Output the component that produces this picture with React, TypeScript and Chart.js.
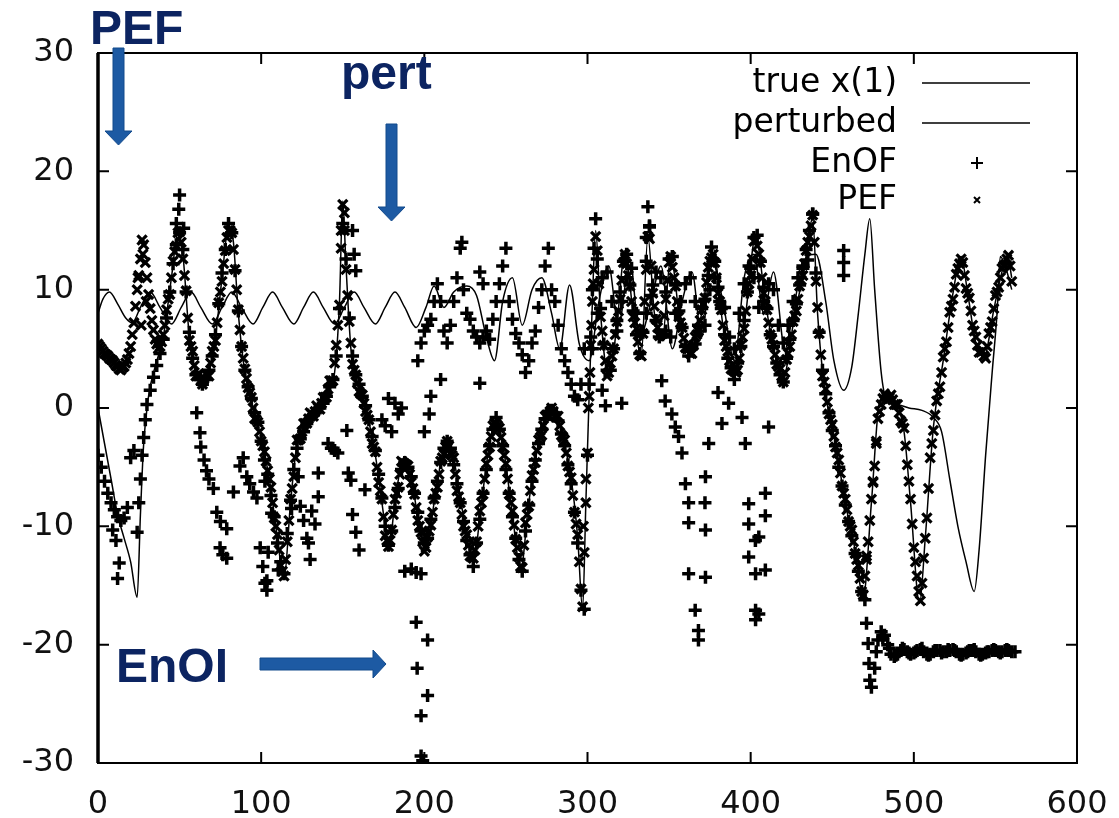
import React, { useEffect, useRef } from "react";
import { Chart, registerables } from "chart.js";

Chart.register(...registerables);

// ---------------- data ----------------
const X_TICKS = [0, 100, 200, 300, 400, 500, 600];
const Y_TICKS = [-30, -20, -10, 0, 10, 20, 30];
const LEGEND_LABELS = ["true x(1)", "perturbed", "EnOF", "PEF"];

const truthLine: [number, number][] = [
  [0, 0], [4, -3], [8, -6], [12, -9], [16, -11], [20, -13], [24, -16], [26, -9], [28, -3], [31, 1], [35, 3.5], [40, 6], [45, 11], [49, 14.8], [52, 13], [56, 6], [60, 3], [64, 2.3], [68, 3], [72, 6], [76, 11], [80, 15.3], [83, 14], [86, 8], [90, 3], [95, 0], [100, -2.5], [105, -6], [110, -11], [114, -14.5], [118, -8], [122, -3], [128, -1], [135, 0], [141, 1.5], [145, 3], [148, 9], [150, 17.5], [152, 12], [155, 5], [158, 2.5], [164, 0], [170, -4], [175, -9], [178, -12], [182, -8], [187, -4.4], [192, -6], [197, -10], [201, -12], [206, -8], [211, -4], [215, -3], [219, -5], [225, -10], [230, -13], [235, -8], [240, -3], [244, -1], [248, -3], [254, -9], [259, -13.7], [264, -8], [270, -3], [276, -0.3], [281, -0.5], [286, -3], [291, -7], [294, -11], [297, -17], [299, -8], [301, 1], [303, 9], [305, 15], [308, 8], [313, 2.5], [318, 7], [323, 13.3], [328, 8], [333, 4.5], [337, 14.5], [341, 8], [346, 6], [351, 12.8], [357, 7], [363, 4.5], [370, 8], [377, 13.5], [383, 7], [391, 2.8], [397, 8], [403, 14.5], [409, 9], [414, 5], [420, 2.5], [426, 7], [433, 12], [438, 16], [441, 8], [445, 2], [452, -3], [458, -8], [464, -12], [469, -16], [474, -8], [479, 0.5], [484, 1], [489, 0.5], [494, -2], [498, -8], [503.5, -16.5], [507, -11], [512, -1.6], [518, 4], [524, 9.7], [529, 12.8], [533, 9.7], [538, 5.5], [543, 4.3], [549, 8.3], [554, 11.5], [557.5, 12.8], [560, 11],
];

const perturbedLine: [number, number][] = [
  [0, 8], [3, 9.2], [7, 9.8], [12, 8.8], [17, 7.6], [21, 7.2], [26, 8.5], [32, 9.8], [38, 8.5], [45, 7.1], [51, 8.5], [57, 9.8], [63, 8.5], [70, 7.1], [76, 8.5], [82, 9.8], [88, 8.5], [95, 7.1], [101, 8.5], [107, 9.8], [113, 8.5], [120, 7.1], [126, 8.5], [132, 9.8], [138, 8.5], [145, 7.1], [151, 8.5], [157, 9.8], [163, 8.5], [170, 7.1], [176, 8.5], [182, 9.8], [188, 8.5], [195, 6.8], [201, 8.5], [206, 10.3], [212, 8.5], [218, 9.8], [226, 10.3], [232, 9.5], [238, 6], [243, 4], [248, 9], [254, 11], [260, 7], [266, 10], [272, 11], [278, 8], [283, 5], [289, 10.4], [295, 5.4], [301, 4], [307, 9], [313, 12], [319, 7], [326, 12.5], [332, 6], [339, 9], [345, 12], [352, 5], [358, 9], [364, 11.5], [370, 6], [376, 12.5], [383, 9], [390, 4], [396, 11], [402, 13], [408, 8], [414, 11.5], [421, 5], [427, 9], [433, 12.5], [440, 13], [446, 9], [451, 4], [457, 1.5], [462, 3.5], [466, 8], [470, 13], [473, 16], [476, 10], [480, 3], [483, 0.8], [490, 0.3], [497, 0], [505, -0.2], [512, -0.8], [517, -2], [522, -6], [527, -10], [532, -13], [537, -15.5], [540, -12], [544, -4], [548, 3], [551, 8], [553, 12.8], [556, 12], [560, 10],
];

// PEF estimates read at x = 1, 3, 5, ... 559
const pefOdd: number[] = [
  5.2, 4.8, 4.5, 4.2, 4.0, 3.6, 3.3, 3.4, 3.8, 4.6, 6.2, 8.6, 11.2, 14.2, 12.3, 9.6, 7.4, 5.8, 5.0, 5.6,
  7.0, 9.2, 11.0, 13.2, 14.8, 14.0, 11.2, 7.6, 5.2, 3.6, 2.8, 2.3, 2.5, 2.8, 3.8, 5.2, 7.2, 9.8, 12.2, 14.4,
  15.0, 13.4, 10.0, 6.6, 4.2, 2.5, 1.3, 0, -1.0, -2.0, -3.2, -4.5, -6.0, -8.0, -10.0, -12.0, -13.8, -12.8, -9.5, -6.8,
  -4.2, -2.7, -2.0, -1.3, -0.9, -0.5, -0.3, 0, 0.4, 0.9, 1.6, 2.3, 3.8, 7.0, 13.5, 15.0, 9.5, 5.5, 3.2, 2.1,
  1.2, 0.4, -0.6, -2.0, -3.3, -5.0, -7.0, -9.2, -11.2, -11.2, -9.0, -7.2, -5.6, -4.6, -4.8, -5.6, -6.8, -8.4, -10.0, -11.3,
  -11.8, -10.4, -8.8, -7.2, -5.6, -4.2, -3.3, -3.2, -4.0, -5.6, -7.5, -9.0, -10.4, -11.6, -12.6, -12.0, -10.0, -8.0, -6.0, -4.0,
  -2.4, -1.3, -1.5, -2.5, -4.0, -6.0, -8.0, -9.9, -11.8, -13.4, -11.6, -9.0, -7.0, -5.2, -3.6, -2.5, -1.5, -0.6, -0.3, -0.3,
  -0.7, -1.5, -2.5, -3.8, -5.4, -7.4, -9.8, -13.0, -16.8, -8.0, 1.0, 9.0, 14.5, 10.5, 6.5, 4.0, 3.0, 4.4, 6.2, 8.2,
  10.8, 13.0, 11.2, 9.0, 7.2, 5.6, 4.4, 9.0, 14.5, 12.0, 8.6, 6.8, 6.2, 7.8, 10.8, 12.8, 11.0, 9.0, 7.2, 5.9,
  5.0, 4.6, 5.3, 6.2, 7.4, 8.8, 10.6, 12.4, 13.0, 11.0, 9.0, 7.0, 5.2, 4.0, 3.2, 3.0, 4.2, 6.0, 8.2, 10.5,
  12.6, 14.2, 13.0, 11.0, 9.0, 7.2, 5.8, 4.5, 3.5, 2.7, 3.0, 4.6, 6.2, 7.8, 9.2, 10.8, 12.2, 14.0, 15.4, 14.0,
  8.5, 4.5, 2.2, 0.5, -1.0, -2.4, -3.8, -5.5, -7.2, -8.6, -10.0, -11.3, -12.8, -14.4, -15.8, -12.5, -9.5, -6.3, -3.0, -0.3,
  0.8, 1.0, 0.9, 0.7, 0.3, -0.4, -1.3, -3.2, -6.2, -9.8, -13.0, -15.5, -14.8, -11.0, -6.8, -3.0, -0.6, 1.2, 3.0, 5.0,
  6.8, 8.6, 10.2, 11.8, 12.6, 11.2, 9.7, 8.2, 6.5, 5.3, 4.7, 4.4, 5.2, 6.8, 8.4, 9.8, 11.0, 12.0, 12.6, 12.0,
];

// PEF estimates read at x = 0, 2, 4, ... 560
const pefEven: number[] = [
  5.4, 5.0, 4.6, 4.4, 4.1, 3.8, 3.5, 3.2, 3.5, 4.1, 5.2, 7.2, 10.0, 12.6, 13.8, 11.0, 8.4, 6.6, 5.4, 5.2,
  6.2, 8.3, 9.6, 12.4, 13.7, 14.9, 12.6, 9.9, 5.7, 4.8, 2.7, 2.9, 2.0, 2.9, 2.7, 4.8, 5.7, 8.9, 10.7, 13.3,
  15.0, 14.8, 11.7, 8.3, 5.2, 3.3, 1.7, 0.9, -0.9, -1.2, -2.8, -3.7, -5.3, -6.7, -9.3, -10.7, -13.3, -14.2, -11.3, -7.7,
  -5.8, -2.7, -2.6, -1.3, -1.3, -0.4, -0.7, 0.2, -0.1, 0.9, 0.9, 2.3, 2.3, 5.3, 8.7, 17.2, 11.7, 7.3, 3.7, 2.8,
  1.4, 1.1, -0.3, -1.0, -3.0, -3.7, -6.3, -7.7, -10.8, -11.7, -10.3, -7.7, -6.7, -4.5, -4.7, -4.9, -6.3, -7.3, -9.5, -10.5,
  -12.1, -10.9, -9.9, -7.7, -6.7, -4.5, -3.9, -2.8, -3.8, -4.2, -7.0, -8.0, -10.0, -10.7, -12.5, -12.7, -11.3, -8.7, -7.3, -4.7,
  -3.3, -1.5, -1.3, -1.7, -3.3, -4.7, -7.3, -8.7, -11.1, -12.6, -13.5, -9.7, -8.3, -5.7, -4.6, -2.7, -2.3, -0.7, -0.6, 0,
  -0.7, -0.7, -2.3, -2.7, -4.9, -5.9, -8.8, -10.7, -15.3, -12.2, -3.8, 5.3, 11.7, 13.3, 7.7, 5.3, 2.7, 3.8, 5.0, 7.3,
  9.2, 12.3, 12.2, 10.3, 7.7, 6.7, 4.5, 6.3, 11.7, 14.3, 9.7, 7.5, 6.1, 6.3, 9.2, 12.3, 11.9, 10.3, 7.7, 6.8,
  5.1, 5.0, 4.6, 6.0, 6.5, 8.3, 9.3, 11.9, 12.7, 12.3, 9.7, 8.3, 5.7, 4.8, 3.3, 3.1, 3.2, 5.3, 6.7, 9.8,
  11.2, 14.1, 13.7, 12.3, 9.7, 8.3, 6.2, 5.3, 3.7, 3.3, 2.2, 4.1, 5.2, 7.3, 8.2, 10.3, 11.2, 13.3, 14.5, 16.3,
  10.7, 6.3, 2.7, 1.6, -0.5, -1.4, -3.3, -4.4, -6.6, -7.7, -9.6, -10.3, -12.3, -13.3, -15.5, -14.2, -11.3, -7.7, -4.9, -0.9,
  0.3, 1.2, 0.7, 1.1, 0.3, 0.3, -1.1, -1.7, -4.8, -7.7, -11.8, -14.2, -16.3, -12.7, -9.3, -4.2, -1.9, 0.6, 1.8, 4.3,
  5.6, 8.1, 9.2, 11.3, 12.2, 12.3, 10.1, 9.3, 7.0, 6.0, 4.7, 4.8, 4.2, 6.3, 7.3, 9.5, 10.2, 11.8, 12.1, 12.9,
  10.7,
];

const pefExtra: [number, number][] = [
  [24.5, 11], [26.5, 7], [27.5, 13], [29.5, 9], [149, 15], [151, 16.5], [297.5, -10], [299, -6], [300.5, 0], [301.5, 3], [302.5, 7], [303.5, 10.5], [471, -12.8], [475, -6.2], [477, -2.8],
];

// EnOF estimates following the main track
const enofMain: [number, number][] = [
  [0, -4], [2, -5], [4, -6.2], [6, -7.2], [8, -8], [10, -8.6], [12, -9.2], [14, -9.5], [16, -9.3], [18, -8.4], [20, -4.2], [22, -3.6], [24, -10.5],
  [25, -8], [26, -6], [27, -4], [28, -2.5], [29, -1], [30, 0.3], [32, 1.5],
  [34, 2.6], [36, 3.6], [38, 4.6], [40, 5.8], [42, 7.6], [44, 9.8], [46, 12.2], [48, 13.8], [50, 14.8], [52, 13.4], [54, 9.8], [56, 6.4], [58, 4.2], [60, 2.8], [62, 2.4], [64, 2.0], [66, 2.4], [68, 3.2], [70, 4.4], [72, 6.2], [74, 8.8], [76, 11.4], [78, 13.4], [80, 15.6], [82, 14.8], [84, 11.6], [86, 8.2], [88, 5.2], [90, 3.2], [92, 1.8], [94, 0.8], [96, -0.4], [98, -1.2], [100, -2.8],
  [102, -4.4], [104, -5.6], [106, -7.4], [108, -9.2], [110, -11.4], [112, -13], [114, -14], [116, -10.6], [118, -7.8], [120, -5.2], [122, -3.4], [124, -2.6], [126, -2], [128, -1.3], [130, -0.9], [132, -0.6], [134, -0.3], [136, 0], [138, 0.4], [140, 1.0], [142, 1.8], [144, 2.4], [146, 4.4], [148, 8.4], [150, 15.6], [152, 12.6], [154, 7.6], [156, 4.4], [158, 2.8], [160, 2], [162, 1], [164, 0.2], [166, -1], [168, -2.4], [170, -3.6], [172, -5.6], [174, -7.6], [176, -10], [178, -11.6], [180, -10.4], [182, -8.4], [184, -6.8], [186, -5.2], [188, -4.6], [190, -5], [192, -5.8], [194, -7.2], [196, -8.8], [198, -10.4], [200, -11.4],
  [202, -11], [204, -9.4], [206, -7.6], [208, -6.2], [210, -4.6], [212, -3.4], [214, -2.8], [216, -3.4], [218, -4.8], [220, -6.4], [222, -8], [224, -9.6], [226, -11.2], [228, -12.4], [230, -13.4], [232, -11.4], [234, -9.4], [236, -7.2], [238, -5.2], [240, -3.2], [242, -1.8], [244, -0.8], [246, -1.8], [248, -3.2], [250, -5.2], [252, -7.2], [254, -9.2], [256, -11], [258, -12.8], [260, -13.8], [262, -10.4], [264, -8.2], [266, -6.2], [268, -4.4], [270, -3], [272, -1.8], [274, -0.9], [276, -0.3], [278, -0.2], [280, -0.5], [282, -1.1], [284, -2.2], [286, -3.2], [288, -4.8], [290, -6.4], [292, -8.8], [294, -11.4], [296, -15.4], [298, -17],
  [300, -4], [301, 2], [302, 6], [303, 10], [304, 13.5], [305, 16], [306, 12.6], [308, 8.4], [310, 5.4], [312, 3.2], [314, 3.2], [316, 5], [318, 7.4], [320, 9.8], [322, 12.4], [324, 13], [326, 10.4], [328, 8.2], [330, 6.2], [332, 4.6], [334, 6.4], [336, 12.4], [338, 15.4], [340, 10.4], [342, 7.4], [344, 6], [346, 6.2], [348, 9.8], [350, 12.6], [352, 12.8], [354, 10.4], [356, 8.2], [358, 6.8], [360, 5.2], [362, 4.4], [364, 5.2], [366, 5.4], [368, 7], [370, 8.4], [372, 9.2], [374, 11.2], [376, 13.6], [378, 12.4], [380, 10.2], [382, 8.4], [384, 6.2], [386, 4.2], [388, 3.4], [390, 2.4], [392, 3.8], [394, 5.2], [396, 7.4], [398, 9.8], [400, 11.8], [402, 14.4], [404, 14.6], [406, 12.4], [408, 10.2], [410, 8.4], [412, 6.2], [414, 5.2], [416, 3.8], [418, 2.8], [420, 2.2], [422, 4.2], [424, 5.8], [426, 7.4], [428, 8.8], [430, 10.4], [432, 11.8], [434, 13.4], [436, 15], [438, 16.4], [440, 11.4], [442, 6.4], [444, 3.2], [446, 1.2], [448, -0.4], [450, -1.9], [452, -3.2], [454, -5], [456, -6.6], [458, -8.2], [460, -9.6], [462, -10.8], [464, -12.3], [466, -13.8], [468, -15.5],
  [470, -16.2], [471, -18.2], [472, -19.9], [472.5, -21.6], [473, -23], [474, -23.6], [476, -22], [477, -20.6], [478, -19.6], [480, -18.9], [482, -19.2], [484, -20], [486, -20.8], [488, -21], [490, -20.8], [492, -20.5], [494, -20.4], [496, -20.6], [498, -20.8], [500, -20.7], [502, -20.5], [504, -20.4], [506, -20.6], [508, -20.8], [510, -20.8], [512, -20.6], [514, -20.5], [516, -20.5], [518, -20.6], [520, -20.6], [522, -20.5], [524, -20.4], [526, -20.6], [528, -20.8], [530, -20.8], [532, -20.7], [534, -20.5], [536, -20.5], [538, -20.6], [540, -20.8], [542, -20.8], [544, -20.7], [546, -20.6], [548, -20.5], [550, -20.5], [552, -20.6], [554, -20.6], [556, -20.5], [558, -20.5], [560, -20.6], [562, -20.6],
  [481, -19.4], [485, -20.3], [489, -20.9], [493, -20.3], [497, -20.7], [501, -20.6], [505, -20.3], [509, -20.9], [513, -20.5], [517, -20.7], [521, -20.4], [525, -20.5], [529, -20.9], [533, -20.6], [537, -20.4], [541, -20.9], [545, -20.6], [549, -20.4], [553, -20.7], [557, -20.4],
];

// EnOF estimates on the upper branch
const enofUpper: [number, number][] = [
  [196, 4], [198, 5.5], [200, 6.5], [202, 7], [204, 7.5], [206, 9], [208, 10.5], [210, 9], [212, 6.5], [214, 5.5], [216, 7], [218, 9], [220, 11], [222, 13.5], [224, 10], [226, 8], [228, 7.5], [230, 6.5], [232, 6], [234, 5.5], [236, 6], [238, 6.5], [240, 5.8], [242, 7.5], [244, 9], [246, 10.5], [248, 12], [250, 13.5], [252, 9], [254, 7.5], [256, 6.3], [258, 5.5], [260, 4.5], [262, 3], [264, 4], [266, 5.5], [268, 6.5], [270, 8.5], [272, 10], [274, 12], [276, 13.5], [278, 10], [280, 9], [282, 7], [284, 5], [286, 4], [288, 3], [290, 2], [292, 1], [294, 0.7], [296, 2], [298, 5], [234, 11.5], [236, 10.5],
  [303, 5], [306, 8], [309, 11], [312, 11.5], [315, 9], [318, 6.5], [321, 9], [324, 11], [327, 11.8], [330, 8], [333, 6.5], [336, 8], [339, 9.5], [342, 11.5], [345, 11], [348, 6.5], [351, 6], [354, 8], [357, 9], [360, 10.5], [363, 11], [366, 9], [369, 6.5], [372, 7], [375, 10], [378, 11], [381, 9], [384, 8.5], [387, 6], [390, 5], [393, 8], [396, 10.5], [399, 12], [402, 11], [405, 8.5], [408, 9], [411, 10.5], [414, 10], [417, 7], [420, 5.5], [423, 7], [426, 9], [429, 11], [432, 12], [435, 12.5],
];

// scattered EnOF outliers
const enofOutliers: [number, number][] = [
  [9, -10.3], [11, -11.2], [13, -13.1], [12, -14.4],
  [50, 18], [49.5, 16.8], [48, 15.6], [52.5, 15.2],
  [60.5, -0.4], [62.5, -2.1], [63, -3.3], [65, -4.4], [66.5, -5.3], [68, -6], [70.7, -6.8], [72.8, -8.8], [75, -9.6], [78.9, -10.2], [74.8, -11.8], [76.5, -12.4], [78.9, -12.7], [83, -7.1], [87, -4.9], [89, -4.2], [91.2, -5.8], [93, -6.4], [95.3, -7.1], [97.4, -7.6], [99.4, -11.8], [101, -13.4], [103.5, -14.6], [103.5, -15.4],
  [102.3, -6.2], [106.4, -8.9], [104.3, -12.2], [110.5, -13.7], [102.3, -14.8], [118.6, -8.5], [122.7, -5.8], [124, -8.3], [126, -9.5], [128, -11], [130, -12.8], [131, -8.7], [133, -9.8], [135, -5.5], [135, -7.5], [129, -11.4],
  [141, -3], [143, -3.4], [145, -3.6], [147, -3.8], [152.5, -1.9], [153.4, -5.5], [155, -6.1], [156, -9], [158, -10.5], [160, -12], [163.6, -6.9],
  [156, 15], [157, 13], [158, 11.6],
  [174, -1], [176, -1.5], [178, 0.8], [180, -2], [182, 0.4], [184, -0.5], [186, 0],
  [188, -13.8], [192, -13.6], [195, -13.9], [198, -14],
  [195, -18.1], [202, -19.6], [195.6, -22], [202, -24.3], [198, -26], [198, -29.4], [199, -29.8],
  [210, 2.4], [234, 2.1], [223, 14], [200, -2], [204, 1], [203, -0.5],
  [321, 0.4], [309, 1.5], [311, 0.2],
  [345.5, 2.3], [347.6, 0.6], [351.7, -0.5], [353.8, -1.6], [355.8, -2.4], [357.9, -3.8], [374.3, -3.0], [372.3, -5.8],
  [360, -6.4], [362, -8], [372, -8], [362, -9.7], [372.3, -10.3], [362, -14], [372.3, -14.3], [366, -17.1], [368, -18.8], [368, -19.6],
  [380, 1.3], [386.5, 0.4], [382.4, -1.3], [394.7, -0.8], [396.7, -3],
  [398.8, -8.1], [398.8, -9.8], [402.9, -11.2], [398.8, -12.6], [403, -14], [403, -17.1], [403, -17.9],
  [411, -1.6], [409, -7.2], [409, -9.1], [405, -10.9], [409, -13.7], [405, -17.4],
  [337, 17], [338, 15.3], [336, 14.4], [438, 16.4], [457, 13.3], [457, 12.3], [457, 11.2],
];

// ---------------- helpers ----------------
const toXY = (arr: [number, number][]) => arr.map(([x, y]) => ({ x, y }));
const stepXY = (vals: number[], start: number) => vals.map((y, i) => ({ x: start + 2 * i, y }));

const FRAME = { left: 98, top: 53, right: 1077, bottom: 763 };

const framePlugin = {
  id: "gnuplotFrame",
  afterDatasetsDraw(chart: any) {
    const { ctx, chartArea, scales } = chart;
    const { left, right, top, bottom } = chartArea;
    ctx.save();
    ctx.strokeStyle = "#000";
    ctx.lineWidth = 2;
    ctx.strokeRect(left, top, right - left, bottom - top);
    ctx.lineWidth = 3.5;
    ctx.beginPath();
    ctx.moveTo(left, top);
    ctx.lineTo(left, bottom);
    ctx.stroke();
    ctx.lineWidth = 2;
    const tl = 11;
    ctx.beginPath();
    X_TICKS.forEach((v) => {
      const px = scales.x.getPixelForValue(v);
      ctx.moveTo(px, bottom);
      ctx.lineTo(px, bottom - tl);
      ctx.moveTo(px, top);
      ctx.lineTo(px, top + tl);
    });
    Y_TICKS.forEach((v) => {
      const py = scales.y.getPixelForValue(v);
      ctx.moveTo(left, py);
      ctx.lineTo(left + tl, py);
      ctx.moveTo(right, py);
      ctx.lineTo(right - tl, py);
    });
    ctx.stroke();

    // key
    ctx.font = "33px 'DejaVu Sans'";
    ctx.fillStyle = "#000";
    ctx.textAlign = "right";
    ctx.textBaseline = "middle";
    const rows = [83, 123, 163, 200];
    LEGEND_LABELS.forEach((lab, i) => ctx.fillText(lab, 897, rows[i]));
    ctx.lineWidth = 1.5;
    ctx.beginPath();
    ctx.moveTo(922, rows[0]);
    ctx.lineTo(1030, rows[0]);
    ctx.moveTo(922, rows[1]);
    ctx.lineTo(1030, rows[1]);
    ctx.stroke();
    ctx.lineWidth = 2;
    ctx.beginPath();
    ctx.moveTo(971, rows[2]);
    ctx.lineTo(983, rows[2]);
    ctx.moveTo(977, rows[2] - 6);
    ctx.lineTo(977, rows[2] + 6);
    ctx.moveTo(974, rows[3] - 3);
    ctx.lineTo(980, rows[3] + 3);
    ctx.moveTo(980, rows[3] - 3);
    ctx.lineTo(974, rows[3] + 3);
    ctx.stroke();

    // arrows
    const arrow = (pts: number[][]) => {
      ctx.beginPath();
      pts.forEach(([x, y], i) => (i ? ctx.lineTo(x, y) : ctx.moveTo(x, y)));
      ctx.closePath();
      ctx.fillStyle = "#1d5aa3";
      ctx.fill();
      ctx.strokeStyle = "#134a8c";
      ctx.lineWidth = 1;
      ctx.stroke();
    };
    arrow([[113, 48], [124, 48], [124, 131], [132, 131], [118.5, 145], [105, 131], [113, 131]]);
    arrow([[386, 124], [397, 124], [397, 207], [405, 207], [391.5, 221], [378, 207], [386, 207]]);
    arrow([[260, 658], [373, 658], [373, 650], [386, 664], [373, 678], [373, 670], [260, 670]]);
    ctx.restore();
  },
};

export default function App() {
  const canvasRef = useRef<HTMLCanvasElement | null>(null);

  useEffect(() => {
    const canvas = canvasRef.current;
    if (!canvas) return;
    const chart = new Chart(canvas, {
      type: "scatter",
      data: {
        datasets: [
          {
            label: "true x(1)",
            data: toXY(truthLine),
            showLine: true,
            borderColor: "#000",
            borderWidth: 1.5,
            pointRadius: 0,
            cubicInterpolationMode: "monotone",
            order: 10,
          } as any,
          {
            label: "perturbed",
            data: toXY(perturbedLine),
            showLine: true,
            borderColor: "#000",
            borderWidth: 1.5,
            pointRadius: 0,
            cubicInterpolationMode: "monotone",
            order: 9,
          } as any,
          {
            label: "EnOF",
            data: [...toXY(enofMain), ...toXY(enofUpper), ...toXY(enofOutliers)],
            pointStyle: "cross",
            pointRadius: 6.5,
            borderWidth: 3.5,
            borderColor: "#000",
            backgroundColor: "#000",
            order: 2,
          },
          {
            label: "PEF",
            data: [...stepXY(pefOdd, 1), ...stepXY(pefEven, 0), ...toXY(pefExtra)],
            pointStyle: "crossRot",
            pointRadius: 6.5,
            borderWidth: 3.2,
            borderColor: "#000",
            backgroundColor: "#000",
            order: 1,
          },
        ],
      },
      options: {
        animation: false,
        responsive: false,
        devicePixelRatio: 1,
        layout: { padding: { left: 0, top: FRAME.top, right: 1119 - FRAME.right, bottom: 0 } },
        plugins: { legend: { display: false }, tooltip: { enabled: false } },
        scales: {
          x: {
            type: "linear",
            min: 0,
            max: 600,
            afterBuildTicks: (s: any) => {
              s.ticks = X_TICKS.map((v) => ({ value: v }));
            },
            afterFit: (s: any) => {
              s.height = 818 - FRAME.bottom;
              s.paddingLeft = 0;
              s.paddingRight = 0;
            },
            grid: { display: false, drawTicks: false },
            border: { display: false },
            ticks: {
              font: { family: "'DejaVu Sans'", size: 32 },
              color: "#111",
              padding: 22,
              maxRotation: 0,
            },
          },
          y: {
            type: "linear",
            min: -30,
            max: 30,
            afterBuildTicks: (s: any) => {
              s.ticks = Y_TICKS.map((v) => ({ value: v }));
            },
            afterFit: (s: any) => {
              s.width = FRAME.left;
              s.paddingTop = 0;
              s.paddingBottom = 0;
            },
            grid: { display: false, drawTicks: false },
            border: { display: false },
            ticks: {
              font: { family: "'DejaVu Sans'", size: 32 },
              color: "#111",
              padding: 24,
            },
          },
        },
      },
      plugins: [framePlugin],
    });
    return () => chart.destroy();
  }, []);

  const annot: React.CSSProperties = {
    position: "absolute",
    fontFamily: "'Liberation Sans', Arial, sans-serif",
    fontWeight: 700,
    fontSize: 48,
    lineHeight: "48px",
    color: "#0c2461",
    margin: 0,
    whiteSpace: "nowrap",
  };

  return (
    <div style={{ position: "fixed", left: 0, top: 0, width: 1119, height: 818, background: "#fff", overflow: "hidden" }}>
      <canvas ref={canvasRef} width={1119} height={818} style={{ display: "block" }} />
      <div style={{ ...annot, left: 90, top: 4 }}>PEF</div>
      <div style={{ ...annot, left: 341, top: 49 }}>pert</div>
      <div style={{ ...annot, left: 116, top: 642 }}>EnOI</div>
    </div>
  );
}
